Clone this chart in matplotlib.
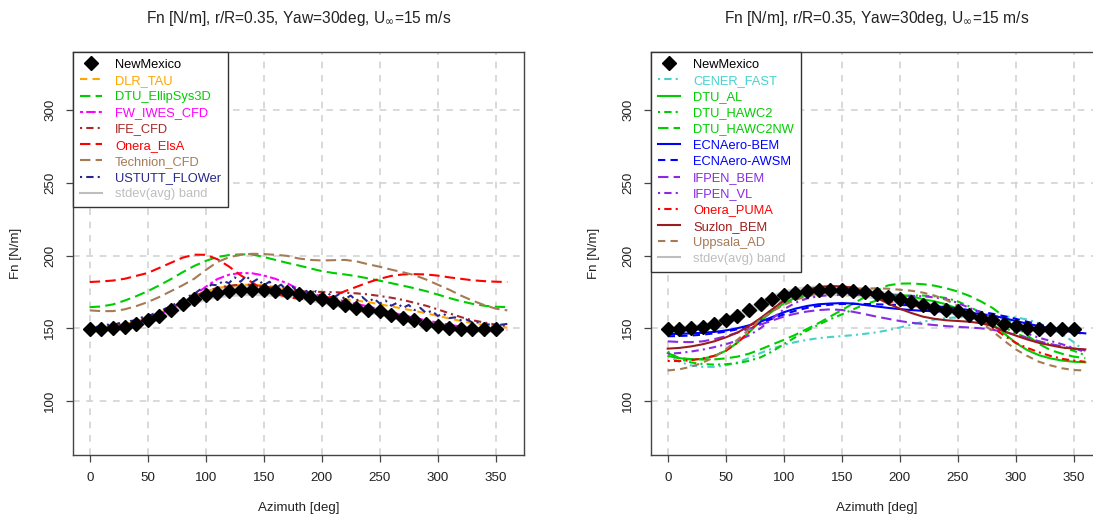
import numpy as np
import matplotlib
matplotlib.use('Agg')
import matplotlib.pyplot as plt
from matplotlib.lines import Line2D

plt.rcParams['font.family'] = ['Liberation Sans', 'DejaVu Sans']

# ==================== data ====================
az_exp = list(range(0, 360, 10))
newmexico = [149.3, 149.8, 150.5, 151.1, 153.2, 156.0, 158.5, 162.4, 166.5, 170.0,
             172.9, 174.5, 175.6, 176.1, 176.3, 176.0, 175.4, 174.7, 173.4, 171.7,
             169.9, 168.1, 166.3, 164.2, 162.8, 161.7, 159.4, 157.3, 155.7, 153.0,
             151.6, 150.5, 149.8, 149.3, 149.3, 149.3]
stdev_half = [2.0, 2.0, 2.2, 2.3, 2.5, 2.7, 3.0, 3.2, 3.4, 3.5,
              3.6, 3.7, 3.8, 3.8, 3.8, 3.7, 3.6, 3.5, 3.4, 3.3,
              3.2, 3.1, 3.0, 2.9, 2.8, 2.7, 2.6, 2.5, 2.4, 2.3,
              2.2, 2.2, 2.1, 2.0, 2.0, 2.0]

az = list(range(0, 361, 10))

# left panel: CFD codes
dlr_tau = [150.0, 150.6, 151.5, 152.8, 154.6, 157.2, 160.3, 164.0, 168.0, 172.0,
           175.3, 177.6, 179.0, 179.8, 180.0, 179.5, 178.5, 177.0, 175.5, 174.0,
           172.6, 171.3, 170.0, 169.0, 168.0, 166.5, 165.0, 163.5, 162.0, 160.3,
           158.5, 156.8, 155.0, 153.5, 152.2, 151.0, 150.5]
dtu_ellipsys = [164.5, 165.0, 166.4, 169.0, 172.0, 175.5, 179.5, 183.8, 188.5, 192.8,
                196.3, 199.0, 200.3, 200.8, 200.7, 199.0, 197.0, 195.0, 193.2, 191.2,
                189.3, 188.0, 187.0, 185.8, 184.3, 182.7, 181.0, 179.3, 177.5, 175.5,
                173.2, 170.8, 168.6, 166.8, 165.5, 164.8, 164.6]
fw_iwes = [149.3, 150.0, 151.0, 152.3, 154.0, 156.0, 159.5, 163.3, 167.5, 172.5,
           178.5, 183.8, 186.8, 188.0, 187.8, 186.3, 184.0, 181.0, 177.0, 174.0,
           172.0, 170.3, 168.6, 166.8, 165.0, 163.0, 161.0, 159.0, 157.2, 155.5,
           153.9, 152.5, 151.1, 150.1, 149.5, 149.1, 148.9]
ife_cfd = [150.0, 150.6, 151.5, 153.0, 155.0, 157.5, 160.5, 164.0, 168.0, 172.0,
           175.3, 177.8, 179.2, 180.0, 179.8, 178.8, 177.5, 176.3, 175.5, 175.1,
           175.0, 174.8, 174.5, 174.0, 173.3, 172.2, 171.0, 169.5, 167.5, 165.5,
           163.0, 160.3, 157.7, 155.5, 154.0, 152.5, 151.5]
onera_elsa = [181.8, 182.2, 182.8, 184.0, 186.0, 188.0, 191.5, 195.0, 198.5, 200.6,
              200.5, 197.5, 192.5, 186.5, 181.5, 176.5, 173.8, 171.6, 170.3, 169.8,
              169.8, 172.0, 175.5, 178.5, 181.5, 184.0, 186.0, 187.0, 187.2, 187.0,
              186.2, 185.0, 184.0, 183.0, 182.4, 182.0, 181.8]
technion = [162.3, 161.8, 161.8, 163.0, 165.2, 168.0, 171.5, 175.5, 179.5, 184.0,
            190.0, 195.5, 198.8, 200.5, 201.2, 201.0, 200.5, 199.8, 198.0, 197.0,
            196.6, 196.8, 197.0, 196.0, 194.0, 192.3, 190.3, 188.5, 186.5, 183.5,
            180.0, 176.5, 172.5, 169.0, 166.0, 163.5, 162.3]
az_flower = list(range(0, 361, 5))
ustutt = [150.5, 151.0, 151.0, 152.5, 152.0, 153.5, 153.5, 155.0, 155.5, 157.5,
          158.0, 160.0, 161.0, 163.5, 165.0, 167.5, 169.5, 172.0, 173.5, 176.5,
          177.0, 180.0, 179.5, 182.5, 181.0, 185.0, 182.0, 186.0, 181.5, 184.0,
          179.5, 182.0, 177.5, 180.0, 176.0, 178.5, 174.5, 177.0, 173.0, 175.5,
          172.0, 174.5, 171.0, 173.5, 170.0, 172.5, 169.0, 171.5, 168.0, 170.5,
          167.0, 169.0, 165.5, 167.5, 164.0, 166.0, 162.5, 164.0, 160.5, 162.0,
          158.5, 160.0, 157.0, 157.5, 155.5, 156.0, 154.0, 154.0, 153.0, 152.5,
          152.0, 152.5, 153.0]

# right panel: engineering / lifting line codes
cener_fast = [131.0, 127.0, 124.5, 123.5, 123.5, 124.5, 126.5, 129.5, 133.0, 136.0,
              138.5, 140.5, 142.0, 143.2, 144.0, 144.6, 145.3, 146.2, 147.2, 148.7,
              150.5, 152.5, 154.5, 156.0, 157.0, 157.5, 158.0, 158.3, 158.5, 158.2,
              157.5, 156.0, 153.5, 150.0, 146.0, 140.5, 134.0]
dtu_al = [133.0, 129.5, 128.5, 129.0, 131.0, 134.5, 140.0, 147.0, 155.0, 161.5,
          167.0, 171.0, 173.0, 174.2, 174.5, 174.3, 174.0, 173.8, 173.5, 173.3,
          173.0, 172.0, 170.0, 168.5, 166.5, 163.5, 160.5, 157.0, 153.0, 146.5,
          140.0, 135.0, 131.5, 129.3, 127.8, 127.0, 126.6]
dtu_hawc2 = [134.0, 129.0, 126.5, 125.5, 125.0, 125.3, 126.0, 127.6, 130.0, 134.0,
             139.0, 143.8, 148.3, 152.5, 156.2, 159.5, 163.0, 166.5, 169.0, 171.0,
             172.0, 172.5, 172.5, 172.0, 170.8, 168.5, 165.0, 160.5, 155.5, 150.8,
             146.5, 143.5, 141.0, 139.0, 137.0, 134.5, 131.5]
dtu_hawc2nw = [131.0, 129.5, 128.8, 128.5, 128.6, 129.3, 130.5, 132.5, 135.5, 138.8,
               142.0, 145.5, 149.5, 153.5, 158.0, 162.5, 167.0, 171.5, 176.0, 179.5,
               180.7, 180.8, 180.3, 179.3, 177.5, 175.3, 172.3, 168.5, 164.0, 158.0,
               151.5, 145.0, 139.3, 135.0, 132.5, 130.5, 129.5]
ecn_bem = [146.0, 146.2, 146.5, 146.9, 147.5, 148.5, 150.0, 152.0, 154.5, 157.7,
           161.0, 163.5, 165.3, 166.5, 167.0, 167.3, 167.0, 166.0, 165.0, 164.0,
           163.2, 162.5, 162.0, 161.7, 161.5, 161.3, 160.7, 159.8, 158.7, 157.0,
           155.0, 153.2, 151.5, 150.0, 148.5, 147.3, 146.5]
ecn_awsm = [144.5, 144.7, 145.0, 145.6, 146.5, 147.7, 149.3, 151.2, 153.5, 156.5,
            159.5, 162.0, 164.0, 165.3, 166.2, 166.7, 166.8, 166.7, 166.5, 166.2,
            166.0, 165.8, 165.5, 165.0, 164.5, 163.7, 162.5, 161.3, 160.0, 158.3,
            156.5, 154.5, 152.5, 150.7, 149.0, 147.3, 146.0]
ifpen_bem = [141.0, 140.6, 140.5, 141.0, 142.5, 144.5, 147.0, 149.6, 152.5, 155.3,
             158.0, 160.0, 161.5, 162.5, 163.0, 162.6, 161.3, 159.7, 158.0, 156.5,
             155.0, 153.8, 153.0, 152.2, 151.5, 151.0, 150.5, 150.0, 149.0, 147.5,
             145.5, 143.3, 141.0, 139.2, 137.5, 136.0, 135.0]
ifpen_vl = [132.5, 133.0, 134.0, 135.3, 137.0, 139.0, 141.5, 145.0, 150.0, 156.5,
            163.0, 167.5, 170.5, 172.0, 172.8, 173.0, 173.0, 172.9, 172.8, 172.7,
            172.5, 172.3, 172.0, 171.2, 170.0, 167.5, 164.0, 161.0, 158.0, 153.5,
            149.5, 146.3, 143.5, 141.3, 139.0, 136.5, 133.5]
onera_puma = [127.5, 127.5, 128.0, 129.3, 131.0, 134.5, 140.0, 147.5, 156.0, 163.0,
              169.0, 173.5, 176.0, 177.5, 178.0, 177.8, 176.5, 174.0, 171.0, 168.8,
              167.0, 165.8, 165.0, 164.3, 163.3, 162.0, 159.5, 155.5, 150.5, 145.0,
              140.0, 136.5, 133.5, 131.0, 129.0, 127.8, 127.0]
suzlon_bem = [136.0, 136.5, 137.5, 139.0, 141.0, 143.7, 147.0, 151.5, 157.0, 163.0,
              169.0, 173.5, 176.5, 178.3, 179.0, 178.8, 178.0, 175.0, 171.0, 167.0,
              163.5, 160.5, 158.0, 156.5, 155.5, 155.0, 154.5, 153.5, 151.5, 148.0,
              145.0, 142.3, 140.0, 138.3, 136.8, 136.0, 135.5]
uppsala_ad = [121.0, 121.8, 123.5, 126.3, 130.0, 135.5, 142.0, 149.0, 156.0, 161.5,
              166.0, 169.5, 172.0, 174.0, 175.5, 176.5, 177.0, 177.3, 177.5, 177.2,
              176.5, 175.8, 174.5, 172.5, 169.5, 165.5, 160.0, 154.0, 148.0, 141.5,
              135.5, 131.0, 127.0, 124.5, 122.5, 121.3, 121.0]

# ==================== styles ====================
GREEN = '#00CD00'
BROWN = '#A57B55'
PURPLE = '#8A2BE2'
BAND = '#BEBEBE'

LONGDASH = (0, (5, 2.5))
DASHED = (0, (3.5, 2.5))
DOTDASH = (0, (1, 2, 3.5, 2))
TWODASH = (0, (1.5, 1.5, 4.5, 1.5))

left_series = [
    ('DLR_TAU', az, dlr_tau, '#FFA500', DASHED),
    ('DTU_EllipSys3D', az, dtu_ellipsys, GREEN, LONGDASH),
    ('FW_IWES_CFD', az, fw_iwes, '#FF00FF', TWODASH),
    ('IFE_CFD', az, ife_cfd, '#A52A2A', DOTDASH),
    ('Onera_ElsA', az, onera_elsa, '#FF0000', LONGDASH),
    ('Technion_CFD', az, technion, BROWN, LONGDASH),
    ('USTUTT_FLOWer', az_flower, ustutt, '#27278F', DOTDASH),
]
right_series = [
    ('CENER_FAST', az, cener_fast, '#48D1CC', DOTDASH),
    ('DTU_AL', az, dtu_al, GREEN, '-'),
    ('DTU_HAWC2', az, dtu_hawc2, GREEN, DOTDASH),
    ('DTU_HAWC2NW', az, dtu_hawc2nw, GREEN, LONGDASH),
    ('ECNAero-BEM', az, ecn_bem, '#0000FF', '-'),
    ('ECNAero-AWSM', az, ecn_awsm, '#0000FF', DASHED),
    ('IFPEN_BEM', az, ifpen_bem, PURPLE, LONGDASH),
    ('IFPEN_VL', az, ifpen_vl, PURPLE, DOTDASH),
    ('Onera_PUMA', az, onera_puma, '#FF0000', DOTDASH),
    ('Suzlon_BEM', az, suzlon_bem, '#9B1C1C', '-'),
    ('Uppsala_AD', az, uppsala_ad, BROWN, DASHED),
]

title = r'Fn [N/m], r/R=0.35, Yaw=30deg, U$_\infty$=15 m/s'

# ==================== figure ====================
W, H = 1093, 517
fig = plt.figure(figsize=(W / 100, H / 100), dpi=100)

ax_top, ax_bot = 51.7, 455.0
ax_w = 451.0
lefts = [73.0, 651.0]
FS = 9.6


def draw_panel(ax, series):
    nm = np.array(newmexico)
    sd = np.array(stdev_half)
    ax.fill_between(az_exp, nm - sd, nm + sd, color='#D0D0D0', lw=0, zorder=2)
    for name, x, y, c, ls in series:
        ax.plot(x, y, color=c, ls=ls, lw=1.5, zorder=3)
    ax.plot(az_exp, newmexico, ls='none', marker='D', ms=7, color='black', zorder=5)

    ax.set_xlim(-14.4, 374.4)
    ax.set_ylim(62.9, 340.1)
    ax.set_xticks(range(0, 351, 50))
    ax.set_yticks(range(100, 301, 50))
    for v in range(0, 351, 50):
        ax.axvline(v, color='#D3D3D3', lw=1.2, ls=(0, (4, 4)), zorder=1)
    for v in range(100, 301, 50):
        ax.axhline(v, color='#D3D3D3', lw=1.2, ls=(0, (4, 4)), zorder=1)

    for s in ax.spines.values():
        s.set_color('#444444')
        s.set_linewidth(1.0)
    ax.tick_params(direction='out', length=5, width=0.9, color='#444444',
                   labelsize=FS, pad=7, labelcolor='#222222')
    ax.tick_params(axis='y', labelrotation=90)
    for lab in ax.get_yticklabels():
        lab.set_va('center')

    ax.set_xlabel('Azimuth [deg]', fontsize=FS, color='#222222')
    ax.set_ylabel('Fn [N/m]', fontsize=FS, color='#222222')
    ax.xaxis.set_label_coords(0.5, -(508 - ax_bot) / (ax_bot - ax_top))
    ax.xaxis.label.set_va('center')
    ax.yaxis.set_label_coords(-(73 - 16) / ax_w, 0.5)
    ax.yaxis.label.set_va('center')

    handles = [Line2D([], [], ls='none', marker='D', ms=7, color='black')]
    labels = ['NewMexico']
    colors = ['black']
    for name, x, y, c, ls in series:
        handles.append(Line2D([], [], color=c, ls=ls, lw=1.5))
        labels.append(name)
        colors.append(c)
    handles.append(Line2D([], [], color=BAND, lw=1.5))
    labels.append('stdev(avg) band')
    colors.append(BAND)

    leg = ax.legend(handles, labels, loc='upper left', bbox_to_anchor=(0, 1),
                    borderaxespad=0, fontsize=9.3, frameon=True, fancybox=False,
                    framealpha=1, edgecolor='#333333', handlelength=1.7,
                    handletextpad=1.0, borderpad=0.55, labelspacing=0.32)
    leg.get_frame().set_linewidth(1.0)
    leg.set_zorder(10)
    for t, c in zip(leg.get_texts(), colors):
        t.set_color(c)


for left, series in zip(lefts, [left_series, right_series]):
    ax = fig.add_axes([left / W, (H - ax_bot) / H, ax_w / W, (ax_bot - ax_top) / H])
    draw_panel(ax, series)
    fig.text((left + ax_w / 2) / W, 1 - 19 / H, title, ha='center', va='center',
             fontsize=11.2, color='#222222')

fig.savefig('out.png', dpi=100)
